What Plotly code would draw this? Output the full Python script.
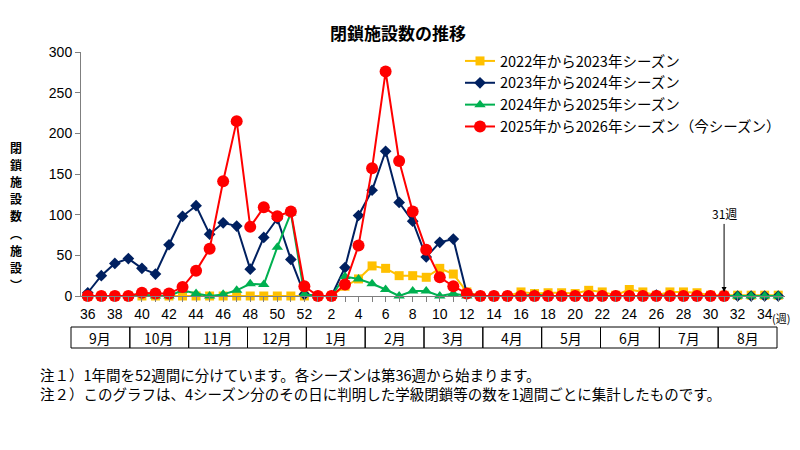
import plotly.graph_objects as go

# ---- data ----
weeks = list(range(36, 53)) + list(range(1, 36))
week_tick_labels = [str(w) if (i % 2 == 0) else "" for i, w in enumerate(weeks)]
months = ["9月", "10月", "11月", "12月", "1月", "2月", "3月", "4月", "5月", "6月", "7月", "8月"]

season_names = [
    "2022年から2023年シーズン",
    "2023年から2024年シーズン",
    "2024年から2025年シーズン",
    "2025年から2026年シーズン（今シーズン）",
]

s2022 = [0, 0, 0, 0, 0, 0, 0, 0, 0, 0, 0, 0, 0, 0, 0, 0, 0,
         0, 0, 12, 21, 37, 34, 25, 25, 23, 34, 27, 5,
         0, 0, 0, 5, 3, 4, 4, 3, 7, 5, 1, 8, 5, 1, 5, 5, 4, 1, 1, 1, 1, 1, 1]
s2023 = [4, 25, 40, 46, 34, 27, 63, 98, 111, 76, 90, 86, 33, 72, 95, 45, 2,
         0, 0, 35, 99, 130, 178, 115, 92, 48, 66, 70, 3,
         0, 0, 0, 0, 0, 0, 0, 0, 0, 0, 0, 0, 0, 1, 0, 0, 0, 0, 0, 0, 0, 0, 0]
s2024 = [0, 0, 0, 0, 2, 0, 0, 7, 3, 0, 2, 7, 15, 14, 60, 102, 2,
         0, 0, 24, 21, 15, 8, 0, 6, 6, 0, 3, 0,
         0, 0, 0, 0, 2, 0, 0, 0, 0, 0, 0, 0, 0, 0, 0, 0, 0, 0, 0, 0, 0, 0, 0]
s2025 = [0, 0, 0, 0, 4, 3, 3, 11, 31, 58, 141, 215, 85, 109, 98, 104, 12,
         0, 0, 14, 62, 157, 276, 166, 104, 57, 23, 12, 3,
         0, 0, 0, 0, 0, 0, 0, 0, 0, 0, 0, 0, 0, 0, 0, 0, 0, 0, 0,
         None, None, None, None]

series = [s2022, s2023, s2024, s2025]
colors = ["#FFC000", "#002060", "#00B050", "#FF0000"]
symbols = ["square", "diamond", "triangle-up", "circle"]
msizes = [9, 9, 10, 12]

current_week_label = "31週"
current_week = 31

# ---- layout helpers (screen pixel -> paper) ----
OFF = 8  # page body margin
W, H = 800 - OFF, 450 - OFF
PL, PR, PT, PB = 81, 785, 52, 296
def px(x):
    return (x - PL) / (PR - PL)
def py(y):
    return (PB - y) / (PB - PT)

JP = "Noto Sans CJK JP"
NUM = "Liberation Sans"

x_idx = list(range(len(weeks)))

fig = go.Figure()
for name, vals, c, sym, ms in zip(season_names, series, colors, symbols, msizes):
    fig.add_trace(go.Scatter(
        x=x_idx, y=vals, name=name, mode="lines+markers",
        line=dict(color=c, width=2),
        marker=dict(symbol=sym, size=ms, color=c),
        cliponaxis=False,
    ))

shapes = []
annotations = []

# month table
t_left, t_right, t_top, t_bot = 71, 777, 327, 348
cw = (t_right - t_left) / len(months)
for i, m in enumerate(months):
    x0 = t_left + i * cw
    x1 = x0 + cw
    shapes.append(dict(type="rect", xref="paper", yref="paper",
                       x0=px(x0), x1=px(x1), y0=py(t_bot), y1=py(t_top),
                       line=dict(color="#000000", width=1)))
    annotations.append(dict(xref="paper", yref="paper", x=px((x0 + x1) / 2), y=py((t_top + t_bot) / 2),
                            text=m, showarrow=False, font=dict(family=JP, size=14, color="#000"),
                            xanchor="center", yanchor="middle"))

# (週)
annotations.append(dict(xref="paper", yref="paper", x=px(781), y=py(318), text="(週)",
                        showarrow=False, font=dict(family=JP, size=11, color="#000"),
                        xanchor="center", yanchor="middle"))

# y-axis title (vertical, one character per line)
ytitle_chars = ["閉", "鎖", "施", "設", "数", "︵", "施", "設", "︶"]
ytitle_pos = [147, 164, 181, 198, 215, 233, 250, 267, 284]
for ch, yy in zip(ytitle_chars, ytitle_pos):
    annotations.append(dict(xref="paper", yref="paper", x=px(16), y=py(yy),
                            text="<b>" + ch + "</b>", showarrow=False,
                            font=dict(family=JP, size=12, color="#000"),
                            xanchor="center", yanchor="middle"))

# current week marker
cw_idx = weeks.index(current_week, 17)
annotations.append(dict(x=cw_idx, y=s2025[cw_idx] + 5, xref="x", yref="y",
                        text=current_week_label, showarrow=True, arrowhead=2, arrowsize=1,
                        arrowwidth=1, arrowcolor="#000", ax=0, ay=-68,
                        font=dict(family=JP, size=12, color="#000"), yanchor="bottom"))

# notes
annotations.append(dict(xref="paper", yref="paper", x=px(38), y=py(374),
                        text="注１）1年間を52週間に分けています。各シーズンは第36週から始まります。",
                        showarrow=False, font=dict(family=JP, size=14.5, color="#000"),
                        xanchor="left", yanchor="middle"))
annotations.append(dict(xref="paper", yref="paper", x=px(38), y=py(393.5),
                        text="注２）このグラフは、4シーズン分のその日に判明した学級閉鎖等の数を1週間ごとに集計したものです。",
                        showarrow=False, font=dict(family=JP, size=14.5, color="#000"),
                        xanchor="left", yanchor="middle"))

fig.update_layout(
    width=W, height=H,
    margin=dict(l=PL - OFF, r=W - (PR - OFF), t=PT - OFF, b=H - (PB - OFF)),
    paper_bgcolor="white", plot_bgcolor="white",
    title=dict(text="<b>閉鎖施設数の推移</b>", x=(398 - OFF) / W, xref="container", xanchor="center",
               y=1 - (34 - OFF) / H, yref="container", yanchor="middle",
               font=dict(family=JP, size=17, color="#000")),
    xaxis=dict(range=[-0.5, len(weeks) - 0.5], tickmode="array", tickvals=x_idx, ticktext=week_tick_labels,
               ticks="outside", ticklen=5, tickcolor="#7f7f7f", showline=True, linecolor="#7f7f7f",
               linewidth=1, showgrid=False, zeroline=False,
               tickfont=dict(family=NUM, size=14, color="#000"), tickangle=0),
    yaxis=dict(range=[0, 300], dtick=50, ticks="outside", ticklen=5, tickcolor="#7f7f7f",
               showline=True, linecolor="#7f7f7f", linewidth=1, showgrid=False, zeroline=False,
               tickfont=dict(family=NUM, size=14, color="#000")),
    legend=dict(x=px(460), y=py(45), xanchor="left", yanchor="top", bgcolor="rgba(0,0,0,0)",
                font=dict(family=JP, size=14.5, color="#000"), tracegroupgap=0, itemwidth=30),
    shapes=shapes, annotations=annotations,
)

fig.write_html("out.html")
